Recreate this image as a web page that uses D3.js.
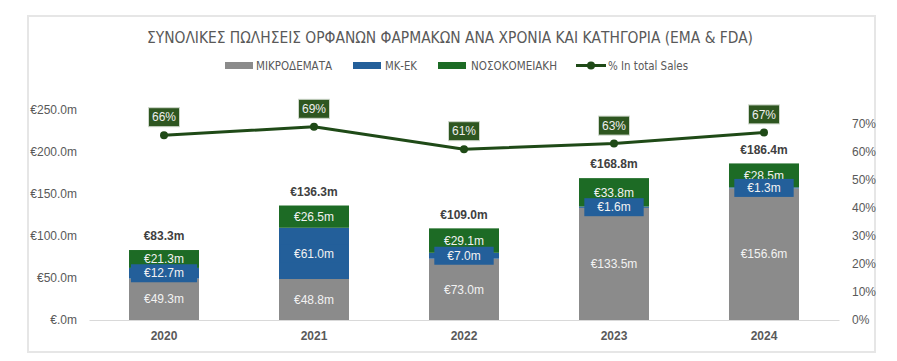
<!DOCTYPE html>
<html>
<head>
<meta charset="utf-8">
<script src="https://cdn.jsdelivr.net/npm/d3@7"></script>
<style>
  body { margin: 0; background: #fff; }
  svg { display: block; }
  text { font-family: "Liberation Sans", Arial, sans-serif; }
  .narrow { font-family: "Liberation Sans Narrow", "DejaVu Sans Condensed", "Liberation Sans", sans-serif; }
</style>
</head>
<body>
<script>
// ----- Data -----
const years = ["2020", "2021", "2022", "2023", "2024"];
const mikrodemata = [49.3, 48.8, 73.0, 133.5, 156.6];
const mkek = [12.7, 61.0, 7.0, 1.6, 1.3];
const nosokomeiaki = [21.3, 26.5, 29.1, 33.8, 28.5];
const totals = [83.3, 136.3, 109.0, 168.8, 186.4];
const shareOfSales = [0.66, 0.69, 0.61, 0.63, 0.67];
const leftTicks = [0, 50, 100, 150, 200, 250];
const rightTicks = [0, 0.1, 0.2, 0.3, 0.4, 0.5, 0.6, 0.7];

const TITLE = "ΣΥΝΟΛΙΚΕΣ ΠΩΛΗΣΕΙΣ ΟΡΦΑΝΩΝ ΦΑΡΜΑΚΩΝ ΑΝΑ ΧΡΟΝΙΑ ΚΑΙ ΚΑΤΗΓΟΡΙΑ (EMA & FDA)";
const seriesNames = ["ΜΙΚΡΟΔΕΜΑΤΑ", "ΜΚ-ΕΚ", "ΝΟΣΟΚΟΜΕΙΑΚΗ"];
const lineName = "% In total Sales";

// ----- Styles -----
const W = 897, H = 361;
const GRAY = "#8b8b8b", BLUE = "#235f9a", GREEN = "#1d6b25";
const LINE = "#1f4a17", PCT_FILL = "#2e5620";
const TEXT = "#595959";
const PLOT = { left: 89, right: 839, top: 110, bottom: 320 };

const svg = d3.select("body").append("svg")
    .attr("width", W).attr("height", H);

// outer frame
svg.append("rect")
    .attr("x", 28).attr("y", 16).attr("width", 847).attr("height", 336)
    .attr("fill", "#fff").attr("stroke", "#e6e6e6").attr("stroke-width", 2);

// title
svg.append("text")
    .attr("class", "narrow")
    .attr("x", 147).attr("y", 43)
    .attr("textLength", 606).attr("lengthAdjust", "spacingAndGlyphs")
    .attr("font-size", 16).attr("fill", TEXT)
    .text(TITLE);

// ----- Scales -----
const x = d3.scaleBand()
    .domain(years)
    .range([PLOT.left, PLOT.right])
    .paddingInner(0.5333)
    .paddingOuter(0.2667);
const y = d3.scaleLinear().domain([0, 250]).range([PLOT.bottom, PLOT.top]);
const y2 = d3.scaleLinear().domain([0, 0.75]).range([PLOT.bottom, PLOT.top]);

// ----- Axes -----
const leftAxis = svg.append("g")
    .attr("transform", `translate(77,0)`)
    .call(d3.axisLeft(y).tickValues(leftTicks).tickSize(0).tickPadding(0)
        .tickFormat(d => d === 0 ? "€.0m" : "€" + d3.format(".1f")(d) + "m"));
const rightAxis = svg.append("g")
    .attr("transform", `translate(852,0)`)
    .call(d3.axisRight(y2).tickValues(rightTicks).tickSize(0).tickPadding(0)
        .tickFormat(d3.format(".0%")));
[leftAxis, rightAxis].forEach(a => {
    a.select(".domain").remove();
    a.selectAll("text").attr("font-size", 12).attr("fill", TEXT)
        .attr("font-family", "Liberation Sans, Arial, sans-serif");
});

const bottomAxis = svg.append("g")
    .attr("transform", `translate(0,${PLOT.bottom})`)
    .call(d3.axisBottom(x).tickSize(0).tickPadding(11));
bottomAxis.select(".domain").attr("stroke", "#d9d9d9").attr("stroke-width", 1.2);
bottomAxis.selectAll("text").attr("font-size", 12).attr("font-weight", "bold")
    .attr("fill", TEXT).attr("font-family", "Liberation Sans, Arial, sans-serif");

// ----- Stacked bars -----
const rows = years.map((yr, i) => ({
    year: yr, s0: mikrodemata[i], s1: mkek[i], s2: nosokomeiaki[i]
}));
const stack = d3.stack().keys(["s0", "s1", "s2"])(rows);
const colors = [GRAY, BLUE, GREEN];

const layers = svg.append("g").selectAll("g")
    .data(stack).enter().append("g")
    .attr("fill", (d, i) => colors[i]);
layers.selectAll("rect")
    .data(d => d).enter().append("rect")
    .attr("x", d => x(d.data.year))
    .attr("width", x.bandwidth())
    .attr("y", d => y(d[1]))
    .attr("height", d => y(d[0]) - y(d[1]));

// segment labels: gray, green, then blue boxes on top
const fmtM = v => "€" + d3.format(".1f")(v) + "m";
const labelOrder = [0, 2, 1];
labelOrder.forEach(k => {
    const g = svg.append("g");
    stack[k].forEach(d => {
        const cx = x(d.data.year) + x.bandwidth() / 2;
        const cy = (y(d[0]) + y(d[1])) / 2;
        const lg = g.append("g");
        const t = lg.append("text")
            .attr("x", cx).attr("y", cy).attr("dy", "0.35em")
            .attr("text-anchor", "middle")
            .attr("font-size", 12).attr("fill", "#f2f2f2")
            .text(fmtM(d[1] - d[0]));
        if (k === 1) {
            const w = t.node().getComputedTextLength() + 26;
            lg.insert("rect", "text")
                .attr("x", cx - w / 2).attr("y", cy - 9)
                .attr("width", w).attr("height", 18)
                .attr("fill", BLUE);
        }
    });
});

// totals
svg.append("g").selectAll("text")
    .data(years).enter().append("text")
    .attr("x", d => x(d) + x.bandwidth() / 2)
    .attr("y", (d, i) => y(totals[i]) - 14)
    .attr("dy", "0.35em")
    .attr("text-anchor", "middle")
    .attr("font-size", 12).attr("font-weight", "bold").attr("fill", "#404040")
    .text((d, i) => fmtM(totals[i]));

// ----- Line -----
const line = d3.line()
    .x((d, i) => x(years[i]) + x.bandwidth() / 2)
    .y(d => y2(d));
svg.append("path")
    .datum(shareOfSales)
    .attr("d", line)
    .attr("fill", "none").attr("stroke", LINE).attr("stroke-width", 3)
    .attr("stroke-linejoin", "round");
svg.append("g").selectAll("circle")
    .data(shareOfSales).enter().append("circle")
    .attr("cx", (d, i) => x(years[i]) + x.bandwidth() / 2)
    .attr("cy", d => y2(d))
    .attr("r", 4).attr("fill", LINE);

// percentage labels
const pct = svg.append("g").selectAll("g")
    .data(shareOfSales).enter().append("g")
    .attr("transform", (d, i) => `translate(${x(years[i]) + x.bandwidth() / 2},${y2(d) - 18})`);
pct.append("rect")
    .attr("x", -15.5).attr("y", -9.5).attr("width", 31).attr("height", 19)
    .attr("fill", PCT_FILL).attr("stroke", "#cfd8cb").attr("stroke-width", 1);
pct.append("text")
    .attr("text-anchor", "middle").attr("dy", "0.35em")
    .attr("font-size", 12).attr("fill", "#eeeeee")
    .text(d => d3.format(".0%")(d));

// ----- Legend -----
const legendItems = [
    { name: seriesNames[0], color: GRAY, sx: 225, tx: 256, tw: 76 },
    { name: seriesNames[1], color: BLUE, sx: 353, tx: 385, tw: 32 },
    { name: seriesNames[2], color: GREEN, sx: 438, tx: 471, tw: 86 }
];
const legend = svg.append("g");
legendItems.forEach(it => {
    legend.append("rect")
        .attr("x", it.sx).attr("y", 62).attr("width", 28).attr("height", 7)
        .attr("fill", it.color);
    legend.append("text")
        .attr("class", "narrow")
        .attr("x", it.tx).attr("y", 70)
        .attr("textLength", it.tw).attr("lengthAdjust", "spacingAndGlyphs")
        .attr("font-size", 12).attr("fill", TEXT)
        .text(it.name);
});
legend.append("line")
    .attr("x1", 576).attr("x2", 606).attr("y1", 65.5).attr("y2", 65.5)
    .attr("stroke", LINE).attr("stroke-width", 3);
legend.append("circle")
    .attr("cx", 591).attr("cy", 65.5).attr("r", 4).attr("fill", LINE);
legend.append("text")
    .attr("class", "narrow")
    .attr("x", 608).attr("y", 70)
    .attr("textLength", 80).attr("lengthAdjust", "spacingAndGlyphs")
    .attr("font-size", 12).attr("fill", TEXT)
    .text(lineName);
</script>
</body>
</html>
